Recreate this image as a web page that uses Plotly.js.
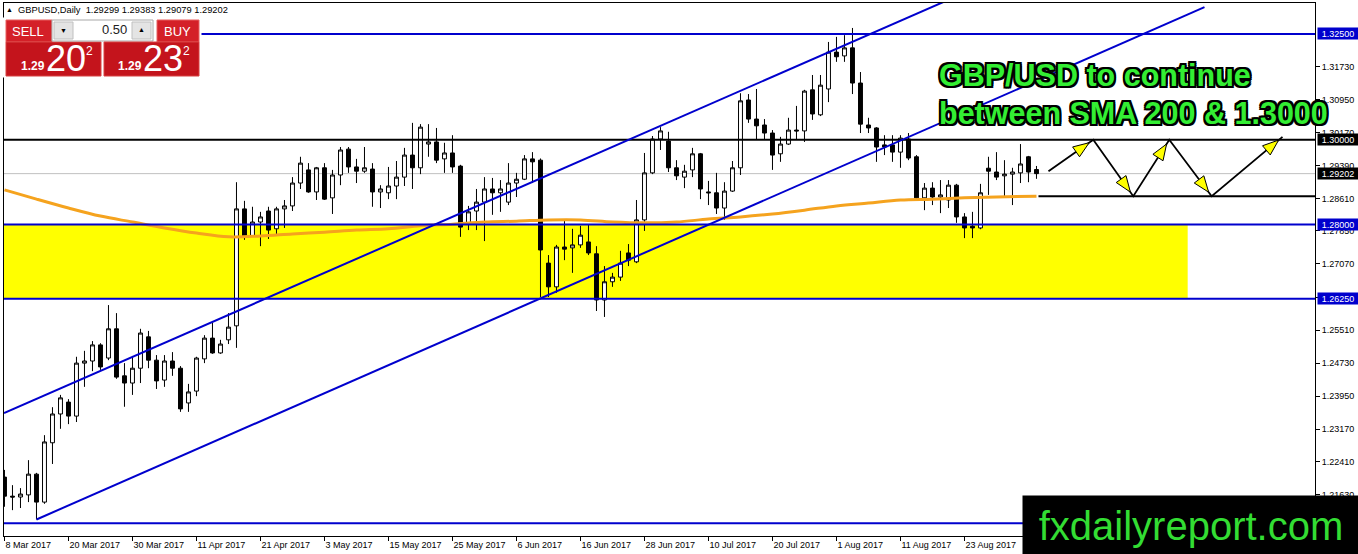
<!DOCTYPE html>
<html><head><meta charset="utf-8">
<script src="https://cdn.plot.ly/plotly-3.0.1.min.js"></script>
<style>html,body{margin:0;padding:0;background:#fff;overflow:hidden}#chart{width:1358px;height:554px}</style>
</head><body><div id="chart"></div>
<script>
// ---------------- data ----------------
const tickBars = [0,8,16,24,32,40,48,56,64,72,80,88,96,104,112,120];
const tickLabels = ['8 Mar 2017','20 Mar 2017','30 Mar 2017','11 Apr 2017','21 Apr 2017','3 May 2017','15 May 2017','25 May 2017','6 Jun 2017','16 Jun 2017','28 Jun 2017','10 Jul 2017','20 Jul 2017','1 Aug 2017','11 Aug 2017','23 Aug 2017'];

const openP = [1.2204,1.2159,1.2157,1.2162,1.2211,1.2145,1.2285,1.2353,1.2381,1.2348,
 1.2473,1.2478,1.2516,1.2485,1.2554,1.2443,1.2426,1.2461,1.2535,1.2480,
 1.2433,1.2478,1.2461,1.2379,1.2407,1.2483,1.2532,1.2497,1.2528,1.2561,
 1.2837,1.2773,1.2806,1.2832,1.2790,1.2837,1.2844,1.2898,1.2929,1.2877,
 1.2934,1.2863,1.2917,1.2978,1.2936,1.2926,1.2931,1.2877,1.2875,1.2891,
 1.2912,1.2964,1.2934,1.2990,1.2995,1.2955,1.2969,1.2938,1.2804,1.2832,
 1.2853,1.2884,1.2875,1.2853,1.2898,1.2907,1.2955,1.2952,1.2709,1.2653,
 1.2747,1.2745,1.2752,1.2759,1.2731,1.2622,1.2665,1.2676,1.2733,1.2712,
 1.2811,1.2922,1.3002,1.2997,1.2934,1.2912,1.2929,1.2967,1.2877,1.2875,
 1.2839,1.2879,1.2934,1.3094,1.3049,1.3035,1.3016,1.2967,1.2990,1.3023,
 1.3021,1.3118,1.3059,1.3120,1.3207,1.3198,1.3217,1.3134,1.3035,1.3028,
 1.2988,1.2988,1.2971,1.3002,1.2960,1.2863,1.2886,1.2865,1.2858,1.2893,
 1.2818,1.2796,1.2792,1.2933,1.2924,1.2915,1.2919,1.2922,1.2960,1.29299];
const highP = [1.2221,1.2185,1.2178,1.2244,1.2214,1.2303,1.2369,1.2398,1.2388,1.2488,
 1.2502,1.2525,1.2520,1.2610,1.2591,1.2473,1.2488,1.2554,1.2549,1.2492,
 1.2492,1.2499,1.2466,1.2424,1.2488,1.2539,1.2568,1.2528,1.2591,1.2900,
 1.2856,1.2842,1.2830,1.2842,1.2842,1.2858,1.2912,1.2960,1.2945,1.2936,
 1.2945,1.2929,1.2983,1.2983,1.2955,1.2983,1.2945,1.2893,1.2936,1.2950,
 1.2981,1.3040,1.3037,1.3037,1.3028,1.2993,1.3011,1.2941,1.2844,1.2884,
 1.2912,1.2910,1.2905,1.2945,1.2922,1.2964,1.2971,1.2956,1.2728,1.2752,
 1.2813,1.2790,1.2797,1.2799,1.2749,1.2702,1.2686,1.2738,1.2754,1.2858,
 1.2969,1.3009,1.3030,1.3019,1.2952,1.2941,1.2981,1.2969,1.2903,1.2922,
 1.2900,1.2950,1.3110,1.3108,1.3120,1.3049,1.3023,1.3007,1.3052,1.3080,
 1.3118,1.3153,1.3153,1.3231,1.3243,1.3247,1.3264,1.3160,1.3052,1.3030,
 1.3011,1.3011,1.3011,1.3016,1.2964,1.2898,1.2900,1.2905,1.2905,1.2896,
 1.2827,1.2830,1.2896,1.2960,1.2971,1.2952,1.2934,1.2990,1.2962,1.29383];
const lowP = [1.2134,1.2126,1.2131,1.2145,1.2104,1.2141,1.2235,1.2318,1.2329,1.2334,
 1.2417,1.2454,1.2457,1.2480,1.2436,1.2370,1.2398,1.2426,1.2461,1.2412,
 1.2417,1.2443,1.2358,1.2358,1.2395,1.2473,1.2495,1.2495,1.2518,1.2509,
 1.2764,1.2771,1.2749,1.2766,1.2775,1.2792,1.2832,1.2884,1.2875,1.2858,
 1.2858,1.2825,1.2893,1.2922,1.2898,1.2922,1.2842,1.2839,1.2860,1.2860,
 1.2891,1.2884,1.2919,1.2960,1.2945,1.2922,1.2922,1.2771,1.2787,1.2787,
 1.2761,1.2823,1.2830,1.2846,1.2865,1.2905,1.2898,1.2629,1.2629,1.2639,
 1.2716,1.2686,1.2745,1.2728,1.2596,1.2582,1.2653,1.2667,1.2702,1.2709,
 1.2785,1.2919,1.2976,1.2924,1.2905,1.2886,1.2912,1.2860,1.2846,1.2825,
 1.2811,1.2877,1.2917,1.3040,1.3000,1.3000,1.2929,1.2948,1.2988,1.3000,
 1.2995,1.3047,1.3056,1.3089,1.3184,1.3184,1.3108,1.3016,1.3016,1.2948,
 1.2964,1.2948,1.2934,1.2952,1.2858,1.2834,1.2846,1.2827,1.2839,1.2804,
 1.2768,1.2768,1.2789,1.2870,1.2905,1.2865,1.2846,1.2898,1.2900,1.29079];
const closeP = [1.2159,1.2157,1.2164,1.2211,1.2145,1.2287,1.2353,1.2391,1.2348,1.2473,
 1.2478,1.2516,1.2464,1.2554,1.2440,1.2426,1.2461,1.2544,1.2480,1.2431,
 1.2478,1.2461,1.2365,1.2405,1.2485,1.2532,1.2497,1.2518,1.2558,1.2837,
 1.2773,1.2806,1.2818,1.2787,1.2837,1.2844,1.2898,1.2945,1.2877,1.2934,
 1.2860,1.2917,1.2976,1.2936,1.2926,1.2934,1.2877,1.2884,1.2891,1.2912,
 1.2964,1.2934,1.3030,1.2995,1.2952,1.2969,1.2936,1.2794,1.2830,1.2853,
 1.2884,1.2875,1.2884,1.2898,1.2907,1.2955,1.2948,1.2740,1.2653,1.2747,
 1.2742,1.2752,1.2775,1.2733,1.2622,1.2665,1.2676,1.2709,1.2716,1.2811,
 1.2922,1.3002,1.3021,1.2934,1.2915,1.2926,1.2967,1.2884,1.2875,1.2839,
 1.2879,1.2934,1.3092,1.3049,1.3033,1.3016,1.2964,1.2990,1.3023,1.3021,
 1.3115,1.3061,1.3129,1.3207,1.3196,1.3217,1.3134,1.3037,1.3028,1.2983,
 1.2983,1.2971,1.3004,1.2957,1.2863,1.2886,1.2865,1.2870,1.2893,1.2818,
 1.2792,1.2792,1.2875,1.2926,1.2912,1.2919,1.2924,1.2943,1.2924,1.29202];

const smaBars = [0,4,8,12,16,20,24,28,32,36,40,44,48,52,56,60,64,68,72,76,80,84,88,92,96,100,104,108,112,116,120,124,129];
const smaVals = [1.2882,1.2860,1.2839,1.2820,1.2806,1.2792,1.2780,1.2771,1.2773,1.2778,1.2782,1.2787,1.2790,1.2797,1.2801,1.2806,1.2808,1.2811,1.2811,1.2806,1.2804,1.2806,1.2813,1.2818,1.2825,1.2834,1.2844,1.2851,1.2858,1.2860,1.2863,1.2865,1.2867];

const priceTicks = [1.3173,1.3095,1.3017,1.2939,1.2861,1.2785,1.2707,1.2629,1.2551,1.2473,1.2395,1.2317,1.2241,1.2163];
const blueLevels = [1.3250, 1.2800, 1.2625];
const blackLevel = 1.3000;
const bidPrice = 1.29202;
const bottomLevel = 1.2095;
const smaLevel = 1.2867, smaLevelStartBar = 129.25;
const zoneTop = 1.2800, zoneBottom = 1.2625, zoneEndBar = 147.9;
const chanLowerBars = [4, 150], chanLowerPrices = [1.2104, 1.3313];
const chanUpperBars = [-0.06, 120], chanUpperPrices = [1.2355, 1.3347];
const pathBars = [130.5, 136.1, 141.1, 145.6, 150.9, 159.75];
const pathPrices = [1.2926, 1.3000, 1.2867, 1.3000, 1.2867, 1.3007];
const headerText = 'GBPUSD,Daily\u00a0\u00a01.29299 1.29383 1.29079 1.29202';

// ---------------- geometry ----------------
const W = 1358, H = 554, ML = 4, MR = 43, MT = 3, MB = 18;
const PW = W - ML - MR, PH = H - MT - MB;
const xRange = [-0.06, -0.06 + PW / 8];
const yRange = [1.20650, 1.33229];
const pxPerBar = PW / (xRange[1] - xRange[0]);
const pxPerPrice = PH / (yRange[1] - yRange[0]);
const px = x => (x - ML) / PW;
const py = y => (H - MB - y) / PH;
const BLUE = '#0000cd';
const FONT = 'Liberation Sans, Arial, sans-serif';

const bars = openP.map((_, i) => i);

const traces = [
  { type: 'candlestick', x: bars, open: openP, high: highP, low: lowP, close: closeP,
    increasing: { line: { color: '#000', width: 1 }, fillcolor: '#ffffff' },
    decreasing: { line: { color: '#000', width: 1 }, fillcolor: '#000000' },
    whiskerwidth: 0, hoverinfo: 'skip', showlegend: false },
  { type: 'scatter', mode: 'lines', x: smaBars, y: smaVals,
    line: { color: '#f5a31e', width: 3, shape: 'spline' }, hoverinfo: 'skip', showlegend: false },
  { type: 'scatter', mode: 'lines', x: pathBars, y: pathPrices, cliponaxis: false,
    line: { color: '#000', width: 1.8 }, hoverinfo: 'skip', showlegend: false }
];

const shapes = [];
shapes.push({ type: 'rect', xref: 'x', yref: 'y', x0: xRange[0] - 2, x1: zoneEndBar, y0: zoneBottom, y1: zoneTop,
  fillcolor: '#ffff00', line: { width: 0 }, layer: 'below' });
shapes.push({ type: 'line', xref: 'paper', yref: 'y', x0: 0, x1: 1, y0: bidPrice, y1: bidPrice,
  line: { color: '#c0c0c0', width: 1 }, layer: 'below' });
blueLevels.concat([bottomLevel]).forEach(v => shapes.push({ type: 'line', xref: 'paper', yref: 'y', x0: 0, x1: 1, y0: v, y1: v,
  line: { color: BLUE, width: 2 }, layer: 'above' }));
shapes.push({ type: 'line', xref: 'paper', yref: 'y', x0: 0, x1: 1, y0: blackLevel, y1: blackLevel,
  line: { color: '#000', width: 2 }, layer: 'above' });
shapes.push({ type: 'line', xref: 'x', yref: 'y', x0: smaLevelStartBar, x1: xRange[1] + 5, y0: smaLevel, y1: smaLevel,
  line: { color: '#000', width: 2 }, layer: 'above' });
shapes.push({ type: 'line', xref: 'x', yref: 'y', x0: chanLowerBars[0], x1: chanLowerBars[1], y0: chanLowerPrices[0], y1: chanLowerPrices[1],
  line: { color: BLUE, width: 2 }, layer: 'above' });
shapes.push({ type: 'line', xref: 'x', yref: 'y', x0: chanUpperBars[0], x1: chanUpperBars[1], y0: chanUpperPrices[0], y1: chanUpperPrices[1],
  line: { color: BLUE, width: 2 }, layer: 'above' });

// arrowheads
function arrowHead(ax, ay, bx, by) {
  const dx = (bx - ax) * pxPerBar, dy = (by - ay) * pxPerPrice;
  const len = Math.hypot(dx, dy), ux = dx / len, uy = dy / len;
  const back = 5, hl = 16, hw = 6;
  const tip = [-ux * back, -uy * back];
  const base = [tip[0] - ux * hl, tip[1] - uy * hl];
  const nx = -uy, ny = ux;
  const pts = [tip, [base[0] + nx * hw, base[1] + ny * hw], [base[0] - nx * hw, base[1] - ny * hw]];
  const d = pts.map((p, i) => (i ? 'L' : 'M') + (bx + p[0] / pxPerBar).toFixed(4) + ',' + (by + p[1] / pxPerPrice).toFixed(6)).join(' ') + ' Z';
  return { type: 'path', xref: 'x', yref: 'y', path: d, fillcolor: '#ffff00', line: { color: '#000', width: 1 }, layer: 'above' };
}
for (let i = 1; i < pathBars.length; i++) shapes.push(arrowHead(pathBars[i - 1], pathPrices[i - 1], pathBars[i], pathPrices[i]));

// trading panel
function rectPx(x0, y0, x1, y1, fill, line) {
  return { type: 'rect', xref: 'paper', yref: 'paper', x0: px(x0), x1: px(x1), y0: py(y1), y1: py(y0),
    fillcolor: fill, line: { color: line || fill, width: 1 }, layer: 'above' };
}
shapes.push(rectPx(0, 18, 201, 77, '#ffffff', '#ffffff'));
shapes.push(rectPx(6, 20, 52, 42, '#d42028', '#e86060'));
shapes.push(rectPx(6, 42, 101, 76, '#c4141c', '#d84040'));
shapes.push(rectPx(52, 20, 153, 41, '#ffffff', '#a8a8a8'));
shapes.push(rectPx(54, 22, 73, 39, '#e4e4e4', '#c0c0c0'));
shapes.push(rectPx(132, 22, 151, 39, '#e4e4e4', '#c0c0c0'));
shapes.push(rectPx(157, 20, 199, 42, '#d42028', '#e86060'));
shapes.push(rectPx(104, 42, 199, 76, '#c4141c', '#d84040'));

const annotations = [];
function textPx(x, y, text, size, color, extra) {
  return Object.assign({ xref: 'paper', yref: 'paper', x: px(x), y: py(y), text: text, showarrow: false,
    font: { family: FONT, size: size, color: color }, xanchor: 'center', yanchor: 'middle', borderpad: 0 }, extra || {});
}
annotations.push(textPx(9.5, 9.5, '\u25b2', 7, '#000'));
annotations.push(textPx(17, 10, headerText, 9.3, '#000', { xanchor: 'left' }));
annotations.push(textPx(28, 31, 'SELL', 13, '#fff'));
annotations.push(textPx(177, 31, 'BUY', 13, '#fff'));
annotations.push(textPx(128, 30, '0.50', 13, '#222', { xanchor: 'right' }));
annotations.push(textPx(63.5, 30.5, '\u25bc', 7, '#000'));
annotations.push(textPx(141.5, 30, '\u25b2', 7, '#000'));
annotations.push(textPx(33, 66, '1.29', 12, '#fff', { font: { family: FONT, size: 12, color: '#fff', weight: 'bold' } }));
annotations.push(textPx(66, 59, '20', 36, '#fff'));
annotations.push(textPx(89, 51, '2', 12, '#fff'));
annotations.push(textPx(130, 66, '1.29', 12, '#fff', { font: { family: FONT, size: 12, color: '#fff', weight: 'bold' } }));
annotations.push(textPx(163, 59, '23', 36, '#fff'));
annotations.push(textPx(186, 51, '2', 12, '#fff'));

// right axis level labels
function levelLabel(v, bg) {
  return { xref: 'paper', yref: 'y', x: px(1317), y: v, xanchor: 'left', yanchor: 'middle', text: v.toFixed(5),
    showarrow: false, bgcolor: bg, width: 40, height: 11, borderpad: 0, align: 'center',
    font: { family: FONT, size: 9, color: '#fff' } };
}
blueLevels.forEach(v => annotations.push(levelLabel(v, BLUE)));
annotations.push(levelLabel(blackLevel, '#000'));
annotations.push(levelLabel(bidPrice, '#000'));

// headline
const outline = '-2px -2px 0 #000, 2px -2px 0 #000, -2px 2px 0 #000, 2px 2px 0 #000, 0 2px 0 #000, 0 -2px 0 #000, 2px 0 0 #000, -2px 0 0 #000';
annotations.push(textPx(938, 75, 'GBP/USD to continue', 30.5, '#33ee33',
  { xanchor: 'left', font: { family: FONT, size: 30.5, color: '#33ee33', weight: 'bold', shadow: outline } }));
annotations.push(textPx(938, 113, 'between SMA 200 &amp; 1.3000', 30.5, '#33ee33',
  { xanchor: 'left', font: { family: FONT, size: 30.5, color: '#33ee33', weight: 'bold', shadow: outline } }));

// watermark box
annotations.push({ xref: 'paper', yref: 'paper', x: px(1022), y: py(495), xanchor: 'left', yanchor: 'top',
  text: 'fxdailyreport.com', showarrow: false, bgcolor: '#000', width: 336, height: 59, borderpad: 0, align: 'center',
  font: { family: FONT, size: 40, color: '#33dd33' } });

const layout = {
  width: W, height: H, margin: { l: ML, r: MR, t: MT, b: MB, pad: 0 },
  paper_bgcolor: '#fff', plot_bgcolor: '#fff', showlegend: false, dragmode: false,
  xaxis: { type: 'linear', range: xRange, rangeslider: { visible: false }, showgrid: false, zeroline: false,
    showline: true, mirror: true, linecolor: '#000', linewidth: 1,
    tickmode: 'array', tickvals: tickBars, ticktext: tickLabels, ticks: 'outside', ticklen: 4, tickcolor: '#000',
    ticklabelposition: 'outside right', tickfont: { family: FONT, size: 9, color: '#000' }, fixedrange: true },
  yaxis: { range: yRange, side: 'right', showgrid: false, zeroline: false,
    showline: true, mirror: true, linecolor: '#000', linewidth: 1,
    tickmode: 'array', tickvals: priceTicks, tickformat: '.5f', ticks: 'outside', ticklen: 4, tickcolor: '#000',
    tickfont: { family: FONT, size: 9, color: '#000' }, fixedrange: true },
  shapes: shapes, annotations: annotations
};

Plotly.newPlot('chart', traces, layout, { displayModeBar: false, staticPlot: true });
</script>
</body></html>
